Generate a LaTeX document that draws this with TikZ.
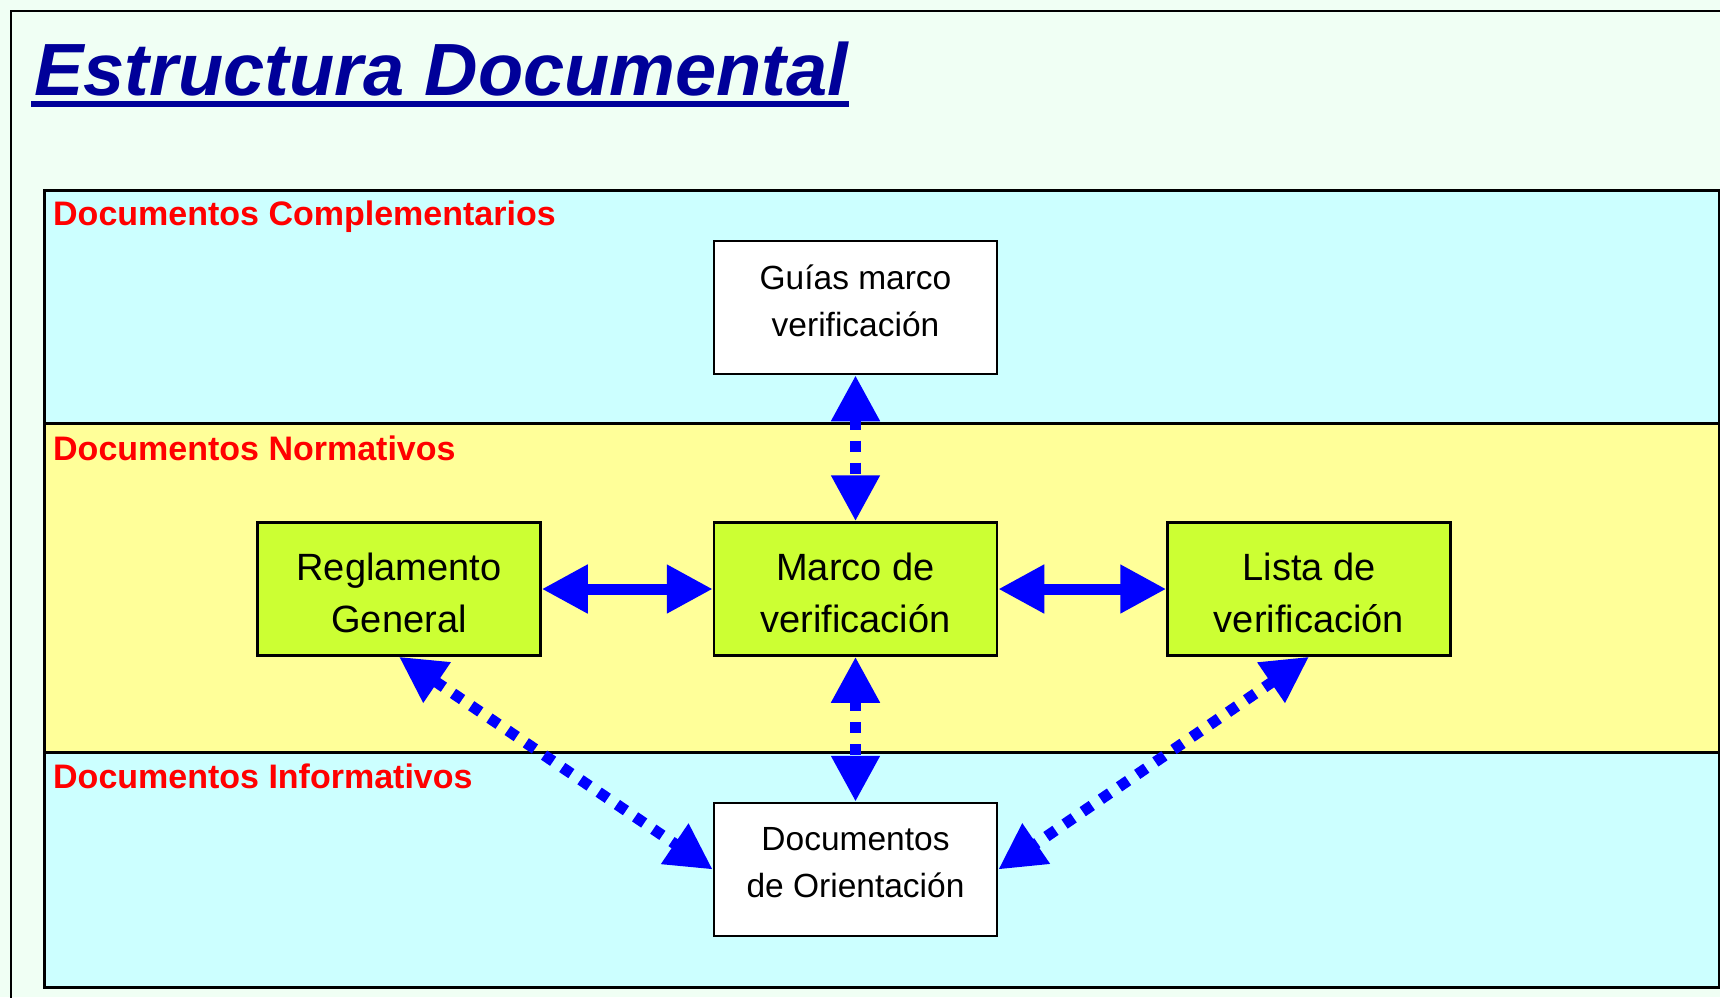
\documentclass[tikz,border=0pt]{standalone}
\usepackage{fontspec}
\setmainfont{Liberation Sans}
\usetikzlibrary{arrows.meta,positioning}

\definecolor{bgmint}{RGB}{240,255,244}
\definecolor{titleblue}{RGB}{0,0,153}
\definecolor{bandcyan}{RGB}{204,255,255}
\definecolor{bandyellow}{RGB}{255,255,153}
\definecolor{boxgreen}{RGB}{204,255,51}
\definecolor{arrowblue}{RGB}{0,0,255}

\begin{document}
\begin{tikzpicture}[x=1pt,y=-1pt,
  box/.style={draw=black, line width=2.5pt, minimum width=283pt, minimum height=133pt,
    align=center, inner sep=0pt},
  greenbox/.style={box, fill=boxgreen, font=\fontsize{38}{52.5}\selectfont, text height=88pt},
  whitebox/.style={box, fill=white, font=\fontsize{33.5}{47}\selectfont, text depth=14pt},
  band/.style={draw=black, line width=3pt},
  bandlabel/.style={anchor=base west, text=red, inner sep=0pt,
    font=\fontsize{34}{40}\selectfont\bfseries},
  link/.style={draw=arrowblue, line width=11pt,
    {Triangle[length=46pt,width=46pt]}-{Triangle[length=46pt,width=46pt]}},
  dotlink/.style={link, dash pattern=on 11pt off 11pt}
]

\clip (0,0) rectangle (1720,997);
\fill[bgmint] (0,0) rectangle (1720,997);
\draw[line width=2.5pt] (11,11) rectangle (1740,1010);

% title
\node[anchor=base west, text=titleblue, inner sep=0pt,
  font=\fontsize{74}{80}\selectfont\bfseries\itshape] (title) at (34,95) {Estructura Documental};
\draw[titleblue, line width=6pt] ([xshift=-3pt,yshift=-9pt]title.base west) -- ([yshift=-9pt]title.base east);

% bands
\draw[band, fill=bandcyan] (44,190) rectangle (1719,987);
\draw[band, fill=bandyellow] (44,423) rectangle (1719,752);

\node[bandlabel] (complab) at (53,225) {Documentos Complementarios};
\node[bandlabel] (normlab) at (53,460) {Documentos Normativos};
\node[bandlabel] (inflab) at (53,788) {Documentos Informativos};

% boxes
\node[greenbox] (marco) at (855.5,589) {Marco de\\verificación};
\node[greenbox, left=171pt of marco] (regl) {Reglamento\\General};
\node[greenbox, right=168pt of marco] (lista) {Lista de\\verificación};
\node[whitebox, above=146pt of marco] (guias) {Guías marco\\verificación};
\node[whitebox, below=145pt of marco] (docor) {Documentos\\de Orientación};

% links
\draw[dotlink] (guias) -- (marco);
\draw[link] (regl) -- (marco);
\draw[link] (marco) -- (lista);
\draw[dotlink] (marco) -- (docor);
\draw[dotlink] (regl.south) -- (docor.west);
\draw[dotlink] (lista.south) -- (docor.east);

\end{tikzpicture}
\end{document}
